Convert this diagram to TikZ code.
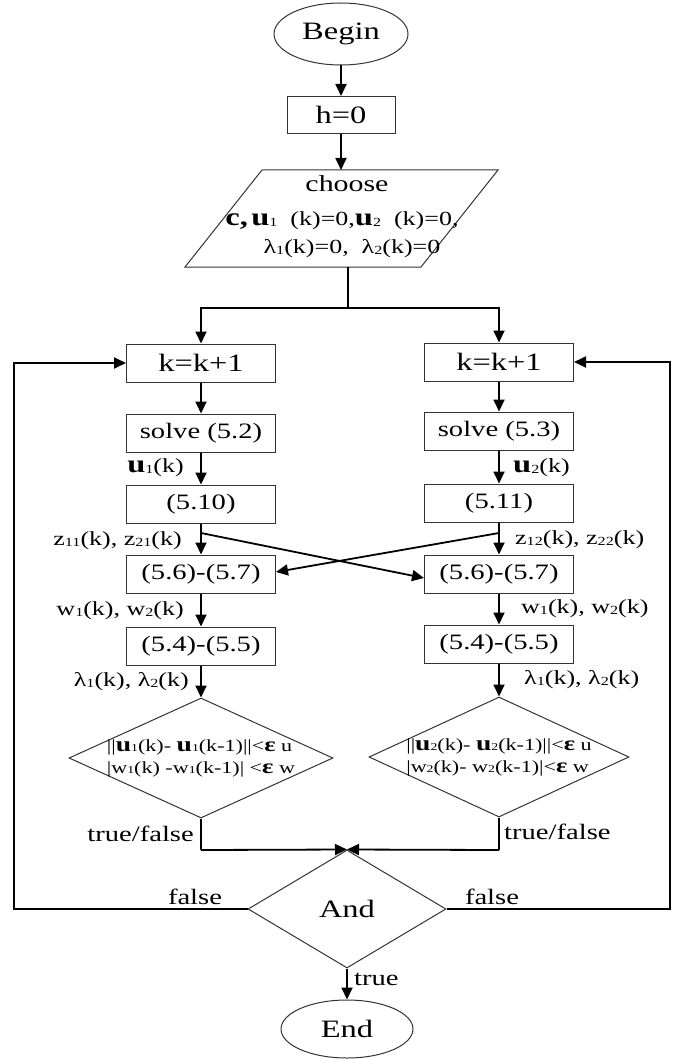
\documentclass[tikz,border=0pt]{standalone}
\usepackage{fontspec}
\setmainfont[FakeStretch=1.3]{Liberation Serif}
\usetikzlibrary{shapes.geometric,arrows.meta,calc}
\newcommand\fz[2]{\fontsize{#1}{#2}\selectfont}
\newcommand\sbs[1]{\raisebox{-0.5pt}{\scalebox{0.62}{#1}}}
\newcommand\bu{\scalebox{1.25}{\textbf{u}}}
\newcommand\beps{\scalebox{1.2}{\textbf{ε}}}
\begin{document}
\begin{tikzpicture}[x=1pt,y=-1pt,
  box/.style={draw=black!80, line width=1pt, minimum width=149pt, minimum height=38pt, inner sep=0pt, font=\fz{22}{24}},
  term/.style={ellipse, draw=black!80, line width=1pt, inner sep=0pt, font=\fz{25}{28}},
  dia/.style={diamond, draw=black!80, line width=1pt, inner sep=0pt},
  shp/.style={draw=black!80, line width=1pt},
  conn/.style={line width=1.8pt, black},
  arr/.style={conn, -{Triangle[length=12pt,width=11pt]}},
  lbl/.style={inner sep=0pt, font=\fz{20}{22}},
  dtxt/.style={inner sep=0pt, align=left, font=\fz{17}{22}}
]
\useasboundingbox (0,0) rectangle (672,1059);
% top part
\node[term, minimum width=134pt, minimum height=62pt] (begin) at (341,34) {Begin};
\node[box, minimum width=108pt, minimum height=37pt, font=\fz{25}{28}] (h) at (341,115) {h=0};
\coordinate (pbl) at (185,267);
\coordinate (pbr) at (421,267);
\coordinate (ptr) at (498,170);
\coordinate (ptl) at (262,170);
\draw[shp] (pbl) -- (pbr) -- (ptr) -- (ptl) -- cycle;
\coordinate (ptop) at (341,170);
\coordinate (pbot) at (348,267);
\node[lbl, font=\fz{23}{24}] (choose) at (347,184) {choose};
\node[lbl] (cl2) at (342,221) {\scalebox{1.25}{\textbf{c,}}\,\bu\sbs{1}\ \ (k)=0,\bu\sbs{2}\ \ (k)=0,};
\node[lbl] (cl3) at (352,249) {λ\sbs{1}(k)=0,\ \ λ\sbs{2}(k)=0};
\draw[arr] (begin) -- (h);
\draw[arr] (h) -- (ptop);
\coordinate (split) at (348,308);
% columns
\node[box, font=\fz{25}{28}] (k1) at (201,363) {k=k+1};
\node[box, font=\fz{25}{28}] (k2) at (499,362) {k=k+1};
\node[box] (s1) at (201,433) {solve (5.2)};
\node[box] (s2) at (499,431) {solve (5.3)};
\node[box] (e1) at (201,504) {(5.10)};
\node[box] (e2) at (499,503) {(5.11)};
\node[box] (c1) at (201,574) {(5.6)-(5.7)};
\node[box] (c2) at (499,574) {(5.6)-(5.7)};
\node[box] (f1) at (201,646) {(5.4)-(5.5)};
\node[box] (f2) at (499,644) {(5.4)-(5.5)};
\node[dia, minimum width=264pt, minimum height=120pt,
      label={[dtxt]center:{||\bu\sbs{1}(k)- \bu\sbs{1}(k-1)||<\beps\ u\\|w\sbs{1}(k) -w\sbs{1}(k-1)| <\beps\ w}}] (d1) at (201,758) {};
\node[dia, minimum width=260pt, minimum height=120pt,
      label={[dtxt]center:{||\bu\sbs{2}(k)- \bu\sbs{2}(k-1)||<\beps\ u\\|w\sbs{2}(k)- w\sbs{2}(k-1)|<\beps\ w}}] (d2) at (499,757) {};
\node[dia, minimum width=198pt, minimum height=118pt, font=\fz{25}{28}] (a) at (347,909) {And};
\node[term, minimum width=132pt, minimum height=58pt] (end) at (347,1029) {End};
% connectors
\draw[conn] (pbot) -- (split);
\draw[arr] (split) -| (k1);
\draw[arr] (split) -| (k2);
\draw[arr] (k1) -- (s1);
\draw[arr] (k2) -- (s2);
\draw[arr] (s1) -- (e1);
\draw[arr] (s2) -- (e2);
\draw[arr] (e1) -- (c1);
\draw[arr] (e2) -- (c2);
\coordinate (x1) at (201,533);
\coordinate (x2) at (499,533);
\draw[arr] (x1) -- ($(c2.west)+(0,4)$);
\draw[arr] (x2) -- ($(c1.east)+(0,-2)$);
\draw[arr] (c1) -- (f1);
\draw[arr] (c2) -- (f2);
\draw[arr] (f1) -- (d1);
\draw[arr] (f2) -- (d2);
\coordinate (t1) at (201,850);
\coordinate (t2) at (499,850);
\draw[conn] (d1.south) -- (t1);
\draw[conn] (d2.south) -- (t2);
\draw[arr] (t1) -- (a.north);
\draw[arr] (t2) -- (a.north);
\coordinate (lc) at (14,909);
\coordinate (rc) at (670,909);
\draw[arr] (a.west) -- (lc) |- (k1.west);
\draw[arr] (a.east) -- (rc) |- (k2.east);
\draw[arr] (a.south) -- (end.north);
% labels
\node[lbl, anchor=east] (lu1) at (184,468) {\bu\sbs{1}(k)};
\node[lbl, anchor=west] (lu2) at (513,468) {\bu\sbs{2}(k)};
\node[lbl, anchor=east] (lz1) at (182,541) {z\sbs{11}(k),\ z\sbs{21}(k)};
\node[lbl, anchor=west] (lz2) at (515,540) {z\sbs{12}(k),\ z\sbs{22}(k)};
\node[lbl, anchor=east] (lw1) at (184,611) {w\sbs{1}(k),\ w\sbs{2}(k)};
\node[lbl, anchor=west] (lw2) at (521,609) {w\sbs{1}(k),\ w\sbs{2}(k)};
\node[lbl, anchor=east] (ll1) at (189,682) {λ\sbs{1}(k),\ λ\sbs{2}(k)};
\node[lbl, anchor=west] (ll2) at (524,680) {λ\sbs{1}(k),\ λ\sbs{2}(k)};
\node[lbl, font=\fz{22}{24}, anchor=east] (tf1) at (194,834) {true/false};
\node[lbl, font=\fz{22}{24}, anchor=west] (tf2) at (504,832) {true/false};
\node[lbl, font=\fz{22}{24}] (fl1) at (195,897) {false};
\node[lbl, font=\fz{22}{24}] (fl2) at (492,897) {false};
\node[lbl, font=\fz{22}{24}, anchor=west] (tr) at (354,979) {true};
\end{tikzpicture}
\end{document}
